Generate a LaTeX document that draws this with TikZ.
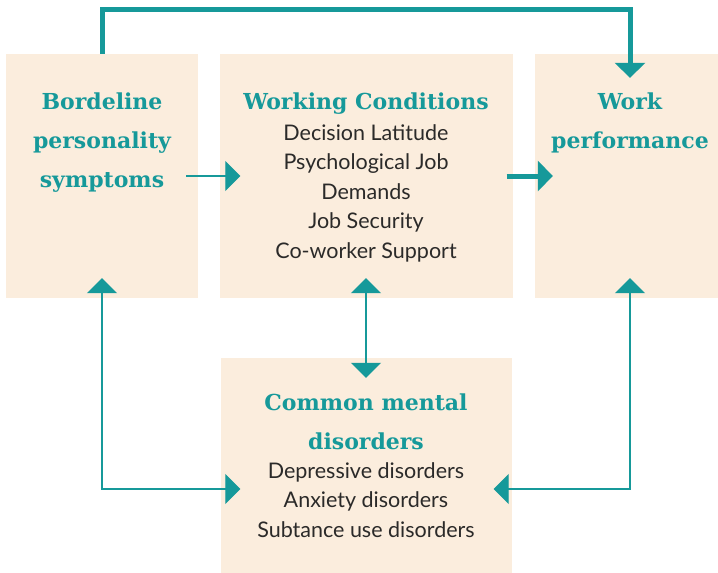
\documentclass[tikz,border=0pt]{standalone}
\usepackage{fontspec}
\setmainfont{Lato}
\newfontfamily\slabfont{DejaVu Serif}
\usetikzlibrary{arrows.meta}
\definecolor{linkteal}{HTML}{16999A}
\definecolor{boxcream}{HTML}{FBEDDD}
\definecolor{ink}{HTML}{2B2A29}
\tikzset{
    >={Triangle[length=15pt,width=30pt]},
    box/.style={fill=boxcream, draw=none, inner sep=0pt},
    head/.style={text=linkteal, font=\slabfont\bfseries\fontsize{22}{39}\selectfont,
        align=center, inner sep=0pt, anchor=north},
    items/.style={text=ink, font=\fontsize{21.5}{29.5}\selectfont,
        align=center, inner sep=0pt, anchor=north},
    thinlink/.style={draw=linkteal, line width=1.3pt},
    thicklink/.style={draw=linkteal, line width=5pt}
}

\begin{document}
\begin{tikzpicture}[x=1pt,y=-1pt]
                \useasboundingbox (0,0) rectangle (718,573);

                % Boxes
                \node[box, minimum width=192pt, minimum height=244pt] (bps) at (102,176) {};
                \node[box, minimum width=293pt, minimum height=244pt] (wc) at (366,176) {};
                \node[box, minimum width=190pt, minimum height=244pt] (wp) at (630,176) {};
                \node[box, minimum width=291pt, minimum height=215pt] (cmd) at (366,465.5) {};

                % Labels
                \node[head] (bpsT) at (102,93) {Bordeline\\personality\\symptoms};
                \node[head] (wcT) at (366,93) {Working Conditions};
                \node[items] (wcL) at (366,124) {Decision Latitude\\Psychological Job\\Demands\\Job Security\\Co-worker Support};
                \node[head] (wpT) at (630,93) {Work\\performance};
                \node[head] (cmdT) at (366,394) {Common mental\\disorders};
                \node[items] (cmdL) at (366,462) {Depressive disorders\\Anxiety disorders\\Subtance use disorders};

                % Links between the boxes
                \draw[thicklink,->] (bps.north) -- ++(0,-44) -| ([yshift=-24pt]wp.north);
                \draw[thinlink,->] ([xshift=-12pt]bps.east) -- ([xshift=21pt]wc.west);
                \draw[thicklink,->] ([xshift=-6pt]wc.east) -- ([xshift=18pt]wp.west);

                \draw[thinlink,<->] ([yshift=20pt]bps.south) |- ([xshift=20pt,yshift=-23.5pt]cmd.west);
                \draw[thinlink,<->] ([yshift=20pt]wc.south) -- ([yshift=-20pt]cmd.north);
                \draw[thinlink,<->] ([yshift=20pt]wp.south) |- ([xshift=-18pt,yshift=-23.5pt]cmd.east);
            \end{tikzpicture}
\end{document}
